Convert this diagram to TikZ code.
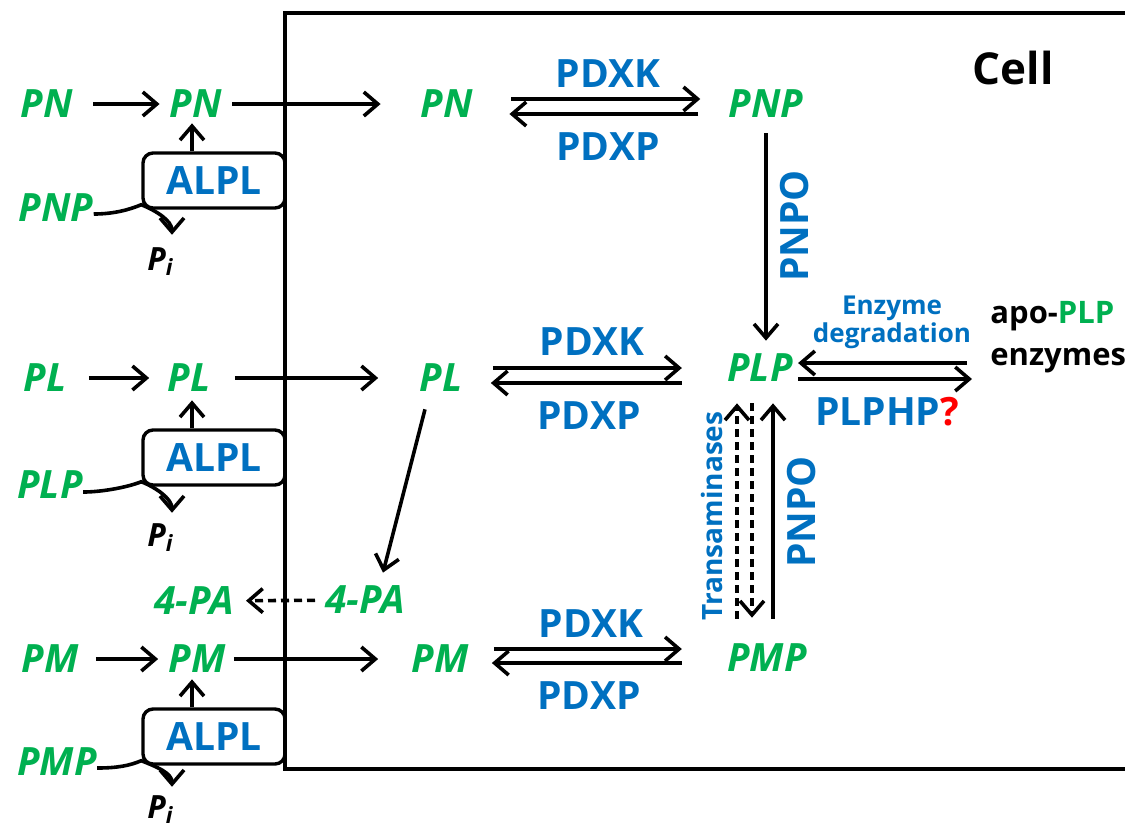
\documentclass[tikz,border=0pt]{standalone}
\usepackage{fontspec}
\setmainfont{Open Sans}
\usetikzlibrary{arrows.meta}
\definecolor{sgreen}{RGB}{0,176,80}
\definecolor{eblue}{RGB}{0,112,192}

\begin{document}
\begin{tikzpicture}[x=0.5pt,y=-0.5pt,
  sp/.style={inner sep=0pt,text=sgreen,font=\fontsize{19.5}{22}\selectfont\bfseries\itshape},
  enz/.style={inner sep=0pt,text=eblue,font=\fontsize{19.5}{22}\selectfont\bfseries},
  alpl/.style={draw,line width=1.7pt,rounded corners=5pt,minimum width=71pt,minimum height=27.5pt,inner sep=0pt,text=eblue,font=\fontsize{19.5}{22}\selectfont\bfseries},
  pii/.style={inner sep=0pt,anchor=base west,font=\fontsize{16}{18}\selectfont\bfseries\itshape},
  arr/.style={line width=1.8pt,-{Straight Barb[length=7pt,width=12pt,line width=1.8pt]}},
  darr/.style={arr,dash pattern=on 4pt off 2.5pt}]
\useasboundingbox (0,0) rectangle (1125,827);
\draw[line width=1.8pt] (285,13) rectangle (1200,769);
\node[font=\fontsize{22}{26}\selectfont\bfseries] (cell) at (1013,68) {Cell};

% outside the cell
\node[sp] (PNo) at (47,104) {PN};
\node[sp] (PNi) at (196,104) {PN};
\node[sp] (PNPo) at (56,208) {PNP};
\node[alpl] (ALPLa) at (214,180.5) {ALPL};
\node[pii] (Pia) at (147,270) {P\textsubscript{i}};
\node[sp] (PLo) at (45,378) {PL};
\node[sp] (PLi) at (189,378) {PL};
\node[sp] (PLPo) at (50,485) {PLP};
\node[alpl] (ALPLb) at (214,457.5) {ALPL};
\node[pii] (Pib) at (147,546) {P\textsubscript{i}};
\node[sp] (PAo) at (194,601) {4-PA};
\node[sp] (PMo) at (50,659) {PM};
\node[sp] (PMi) at (197,659) {PM};
\node[sp] (PMPo) at (57,762) {PMP};
\node[alpl] (ALPLc) at (214,736.5) {ALPL};
\node[pii] (Pic) at (147,818) {P\textsubscript{i}};

% inside the cell
\node[sp] (PNc) at (447,104) {PN};
\node[sp] (PNP) at (766,104) {PNP};
\node[sp] (PLc) at (441,378) {PL};
\node[sp] (PLP) at (760,368) {PLP};
\node[sp] (PAc) at (365,600) {4-PA};
\node[sp] (PMc) at (440,659) {PM};
\node[sp] (PMP) at (767,658) {PMP};

\node[enz] (kina) at (608,74) {PDXK};
\node[enz] (phoa) at (608,147) {PDXP};
\node[enz] (kinb) at (592,342) {PDXK};
\node[enz] (phob) at (589,416) {PDXP};
\node[enz] (kinc) at (591,624) {PDXK};
\node[enz] (phoc) at (589,696) {PDXP};
\node[enz,rotate=90] (oxa) at (795,226) {PNPO};
\node[enz,rotate=90] (oxb) at (802,512) {PNPO};
\node[enz,rotate=90,font=\fontsize{14}{16}\selectfont\bfseries] (trans) at (712,516) {Transaminases};
\node[enz,align=center,anchor=south,font=\fontsize{13}{14}\selectfont\bfseries] (degr) at (892,349) {Enzyme\\degradation};
\node[enz] (plphp) at (887,412) {PLPHP\textcolor{red}{?}};
\node[inner sep=0pt,align=left,anchor=base west,font=\fontsize{15.5}{21}\selectfont\bfseries] (apo) at (990,365) {apo-\textcolor{sgreen}{PLP}\\enzymes};

% uptake
\draw[arr,shorten <=10pt,shorten >=5pt] (PNo) -- (PNi);
\draw[arr,shorten <=5pt,shorten >=20pt] (PNi) -- (PNc);
\draw[arr,shorten <=11pt,shorten >=9pt] (PLo) -- (PLi);
\draw[arr,shorten <=12pt,shorten >=20.5pt] (PLi) -- (PLc);
\draw[arr,shorten <=8.5pt,shorten >=5pt] (PMo) -- (PMi);
\draw[arr,shorten <=4pt,shorten >=16.5pt] (PMi) -- (PMc);
\draw[darr,shorten <=5pt,shorten >=6pt] (PAc) -- (PAo);

% ALPL
\draw[arr,shorten >=2.5pt] ([xshift=-11pt]ALPLa.north) -- ([xshift=-11pt]ALPLa.north |- PNi.south);
\draw[arr,shorten >=4pt] ([xshift=-11pt]ALPLb.north) -- ([xshift=-11pt]ALPLb.north |- PLi.south);
\draw[arr,shorten >=3pt] ([xshift=-11pt]ALPLc.north) -- ([xshift=-11pt]ALPLc.north |- PMi.south);
\draw[arr] ([yshift=-3pt]PNPo.east) .. controls +(20,0) and +(-12,5) .. ([yshift=2.5pt]ALPLa.south west)
  .. controls +(15,6) and +(0,-14) .. ([xshift=12.5pt,yshift=6pt]Pia.north west);
\draw[arr] ([yshift=-3.5pt]PLPo.east) .. controls +(20,0) and +(-12,5) .. ([yshift=2.5pt]ALPLb.south west)
  .. controls +(15,6) and +(0,-14) .. ([xshift=12.5pt,yshift=5pt]Pib.north west);
\draw[arr] ([yshift=-3pt]PMPo.east) .. controls +(20,0) and +(-12,5) .. ([yshift=2.5pt]ALPLc.south west)
  .. controls +(15,6) and +(0,-14) .. ([xshift=12.5pt,yshift=4pt]Pic.north west);

% kinase / phosphatase
\draw[arr] ([xshift=19pt,yshift=2.5pt]PNc.east) -- ([xshift=-14pt,yshift=2.5pt]PNP.west);
\draw[arr] ([xshift=-15pt,yshift=-5pt]PNP.west) -- ([xshift=18pt,yshift=-5pt]PNc.east);
\draw[arr] ([xshift=15pt,yshift=5pt]PLc.east) -- ([xshift=-22.5pt]PLP.west);
\draw[arr] ([xshift=-22.5pt,yshift=-7.5pt]PLP.west) -- ([xshift=14pt,yshift=-2.5pt]PLc.east);
\draw[arr] ([xshift=12.5pt,yshift=5pt]PMc.east) -- ([xshift=-22.5pt,yshift=4.5pt]PMP.west);
\draw[arr] ([xshift=-22.5pt,yshift=-2.5pt]PMP.west) -- ([xshift=11.5pt,yshift=-2pt]PMc.east);

% oxidase, transaminases
\draw[arr,shorten >=6.5pt] ([yshift=-7.5pt]PNP.south) -- (PNP.south |- PLP.north);
\draw[arr,shorten >=10.5pt] ([xshift=3pt,yshift=12.5pt]PMP.north) -- ([xshift=3pt]PMP.north |- PLP.south);
\draw[darr,shorten >=10.5pt] ([xshift=-15pt,yshift=12.5pt]PMP.north) -- ([xshift=-15pt]PMP.north |- PLP.south);
\draw[darr,shorten <=10.5pt] ([xshift=-7.5pt]PMP.north |- PLP.south) -- ([xshift=-7.5pt,yshift=13pt]PMP.north);
\draw[arr] ([xshift=-8pt,yshift=-8.5pt]PLc.south) -- ([xshift=9pt,yshift=6.5pt]PAc.north);

% PLP and apo-enzymes
\draw[arr] ([xshift=-11.5pt,yshift=1pt]apo.base west) -- ([xshift=2.5pt,yshift=2.5pt]PLP.east);
\draw[arr] ([xshift=2.5pt,yshift=-5.5pt]PLP.east) -- ([xshift=-9pt,yshift=-7pt]apo.base west);
\end{tikzpicture}
\end{document}
